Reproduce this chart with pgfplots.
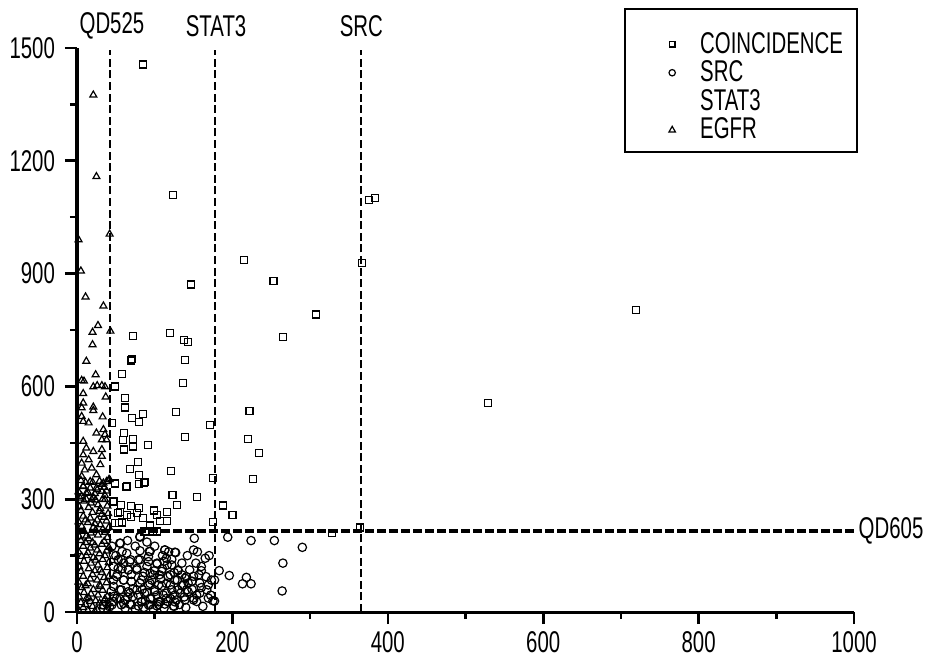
\documentclass[border=0pt]{standalone}
\usepackage{fontspec}
\setmainfont{Liberation Sans}[FakeStretch=0.68]
\usepackage{pgfplots}
\pgfplotsset{compat=1.18}
\begin{document}
\begin{tikzpicture}
\useasboundingbox (-38.5pt,-26pt) rectangle (424pt,306pt);
\begin{axis}[
  at={(0pt,0pt)}, anchor=south west,
  scale only axis, width=388.5pt, height=282pt,
  xmin=0, xmax=1000, ymin=0, ymax=1500,
  axis lines*=left,
  axis line style={line width=1.5pt},
  xtick={0,200,...,1000}, ytick={0,300,...,1500},
  minor x tick num=1, minor y tick num=1,
  tick align=outside,
  major tick length=6pt, minor tick length=3.5pt,
  every tick/.style={line width=1.3pt, black},
  /pgf/number format/assume math mode=true,
  /pgf/number format/1000 sep={},
  tick label style={font=\fontsize{15}{15}\selectfont},
  yticklabel style={xshift=-1.5pt},
  clip=false,
  legend cell align=left,
  legend style={at={(0.705,1.069)}, anchor=north west, draw=none, fill=none,
    font=\fontsize{15}{15}\selectfont, inner xsep=8.5pt, inner ysep=7.75pt,
    row sep=0pt, column sep=0pt, nodes={inner sep=0pt, text height=14.25pt, text depth=0pt}},
]
\addlegendimage{legend image code/.code={\path[draw=none,fill=none] (-15pt,-1pt) rectangle (14pt,1pt);
  \draw[line width=0.6pt] (-1.4pt,-3.9pt) rectangle (1.4pt,-1.1pt);}}
\addlegendentry{COINCIDENCE}
\addlegendimage{legend image code/.code={\path[draw=none,fill=none] (-15pt,-1pt) rectangle (14pt,1pt);
  \draw[line width=0.6pt] (0pt,-2.5pt) circle[radius=1.6pt];}}
\addlegendentry{SRC}
\addlegendimage{legend image code/.code={\path[draw=none,fill=none] (-15pt,-1pt) rectangle (14pt,1pt);}}
\addlegendentry{STAT3}
\addlegendimage{legend image code/.code={\path[draw=none,fill=none] (-15pt,-1pt) rectangle (14pt,1pt);
  \draw[line width=0.6pt] (-1.6pt,-3.6pt) -- (1.6pt,-3.6pt) -- (0pt,-0.8pt) -- cycle;}}
\addlegendentry{EGFR}

% EGFR triangles
\addplot[forget plot, only marks, mark=triangle, mark size=2pt, mark options={line width=0.6pt, fill=white}] coordinates {
(2,5)(8,12)(14,4)(20,15)(26,6)(32,14)(38,5)(5,25)(17,28)(29,24)(40,22)(11,20)(23,2)(35,30)
(3,40)(9,52)(15,38)(21,60)(27,45)(33,58)(39,42)(6,65)(18,48)(30,68)(36,35)(12,35)(24,30)
(2,80)(8,95)(14,75)(20,100)(26,85)(32,105)(38,78)(5,108)(17,88)(29,72)(41,95)(11,70)(23,110)(35,92)
(3,120)(9,135)(15,115)(21,145)(27,125)(33,140)(39,118)(6,148)(18,130)(30,112)(36,150)(12,150)(24,138)(41,132)
(2,160)(8,175)(14,158)(20,185)(26,165)(32,180)(38,162)(5,190)(17,170)(29,155)(35,188)(11,185)(23,178)(41,172)
(3,200)(9,215)(15,195)(21,225)(27,205)(33,220)(39,198)(6,228)(18,210)(30,232)(36,212)(12,202)(24,218)(41,225)
(2,240)(8,255)(14,238)(20,265)(26,245)(32,260)(38,242)(5,270)(17,250)(29,268)(35,252)(11,245)(23,235)(40,262)
(3,280)(9,295)(15,278)(21,305)(27,285)(33,300)(39,282)(6,308)(18,290)(30,275)(36,310)(12,300)(24,298)
(2,320)(8,335)(14,318)(20,345)(26,325)(32,340)(38,322)(5,350)(17,330)(29,348)(35,332)(11,345)(23,315)(41,352)
(25,365)(6,361)(17,347)(34,343)(38,347)(42,352)(8,334)(25,330)(12,316)(32,321)(4,303)(19,299)(36,299)
(6,396)(19,383)(10,378)(8,418)(15,405)(8,454)(12,436)(21,427)(32,432)(32,414)(30,392)
(25,476)(34,485)(36,472)(32,458)(38,458)(6,520)(8,507)(15,503)(33,519)
(8,556)(6,543)(21,545)(21,536)(8,581)(21,599)(26,602)(32,602)(36,599)(37,572)(6,616)(9,614)
(24,631)(12,667)(20,711)(20,744)(27,762)(43,747)(34,814)(11,838)(5,907)(2,990)(42,1005)(25,1158)(21,1375)
};

% SRC circles
\addplot[forget plot, only marks, mark=o, mark size=2.1pt, mark options={line width=0.6pt, fill=white}] coordinates {
(81,199)(151,196)(194,199)(224,190)(254,190)(290,172)(265,130)(264,56)(218,92)(213,75)(224,75)
(196,97)(183,110)(177,29)(177,85)(55,183)(58,161)
(81,163)(93,161)(113,165)(126,159)(165,143)(153,130)(160,121)(69,139)(81,139)(103,130)(116,125)
(90,121)(66,112)(77,112)(94,103)(106,99)(117,94)(130,110)(135,99)(139,90)(143,77)(141,59)
(129,85)(120,72)(109,69)(100,59)(92,72)(81,77)(70,81)(60,85)(51,94)(47,121)(57,59)(68,50)
(79,45)(90,52)(103,45)(115,50)(126,45)(128,32)(117,28)(107,28)(94,19)(83,28)(70,19)(60,23)
(47,28)(34,19)(42,14)(150,37)(158,50)(167,59)(169,72)(157,99)(166,94)(173,85)(158,77)(154,28)
(169,37)(130,59)(47,68)(53,139)(64,156)(92,147)
(112,10)(125,15)(140,12)(98,8)(86,12)(75,8)(62,10)(55,35)(65,40)(72,62)(84,60)(96,85)(108,88)
(110,115)(122,140)(135,130)(145,112)(150,95)(160,65)(148,60)(138,40)(132,20)(162,15)(175,30)
(172,45)(118,160)(100,175)(75,175)(65,190)(90,186)(110,150)(142,150)(155,160)(170,150)(125,105)
(85,95)(70,100)(58,115)(50,150)(45,175)(44,55)(48,42)(60,130)(100,110)(112,135)(135,70)(148,82)
(160,110)(52,100)(105,20)(120,36)(95,35)(88,30)
(56,183)(81,201)(94,161)(113,165)(127,158)(47,152)(57,139)(68,134)(79,139)(92,134)(103,128)
(115,143)(122,125)(53,116)(66,112)(77,116)(87,105)(98,99)(109,108)(120,99)(130,112)(141,94)
(47,85)(60,85)(70,81)(83,85)(94,76)(105,72)(115,76)(126,85)(137,72)(148,81)(55,59)(66,54)
(77,59)(87,50)(100,54)(111,45)(122,59)(133,50)(143,54)(154,45)(51,36)(62,32)(72,41)(83,27)
(94,36)(105,27)(115,36)(126,27)(139,32)(150,32)(45,19)(57,19)(68,21)(79,16)(92,19)(103,16)
(113,21)(124,16)(150,165)
};

% COINCIDENCE squares
\addplot[forget plot, only marks, mark=square, mark size=1.75pt, mark options={line width=0.6pt, fill=white}] coordinates {
(85,1456)(124,1109)(376,1095)(384,1100)(215,936)(367,929)(147,871)(253,880)(308,791)(529,556)
(719,803)(265,731)(72,735)(120,741)(138,723)(143,718)(69,669)(71,673)(139,670)(58,632)(136,608)
(49,600)(62,570)(62,544)(127,532)(85,526)(71,517)(80,506)(45,502)(222,534)(171,498)(61,476)
(59,458)(72,460)(72,440)(61,432)(91,445)(139,466)(220,460)(234,422)(79,400)(68,381)(80,365)
(121,375)(87,345)(80,340)(49,342)(63,333)(175,357)(227,354)(123,312)(154,305)(129,285)(188,283)
(200,257)(47,294)(57,285)(70,281)(80,276)(55,267)(69,252)(85,250)(99,270)(103,258)(116,266)
(116,241)(107,241)(94,230)(98,214)(49,236)(58,238)(175,239)(328,211)(364,225)(64,334)(86,343)
(53,263)(64,258)(77,263)(87,214)(103,214)(54,236)
};

% threshold lines
\draw[line width=1pt, dash pattern=on 4pt off 1.8pt] (axis cs:43,0) -- (axis cs:43,1495);
\draw[line width=1pt, dash pattern=on 4pt off 1.8pt] (axis cs:177,0) -- (axis cs:177,1495);
\draw[line width=1pt, dash pattern=on 4pt off 1.8pt] (axis cs:365,0) -- (axis cs:365,1495);
\draw[line width=2pt, dash pattern=on 4.5pt off 1.5pt] (axis cs:0,216) -- (axis cs:1000,216);
\node[font=\fontsize{15}{15}\selectfont] at (axis cs:45,1558) {QD525};
\node[font=\fontsize{15}{15}\selectfont] at (axis cs:179,1558) {STAT3};
\node[font=\fontsize{15}{15}\selectfont] at (axis cs:366,1558) {SRC};
\node[font=\fontsize{15}{15}\selectfont, anchor=west, inner sep=1pt] at (axis cs:1003,216) {QD605};
% legend frame
\draw[line width=1pt] (rel axis cs:0.7053,0.8156) rectangle (rel axis cs:1.0039,1.0691);
\end{axis}
\end{tikzpicture}
\end{document}
